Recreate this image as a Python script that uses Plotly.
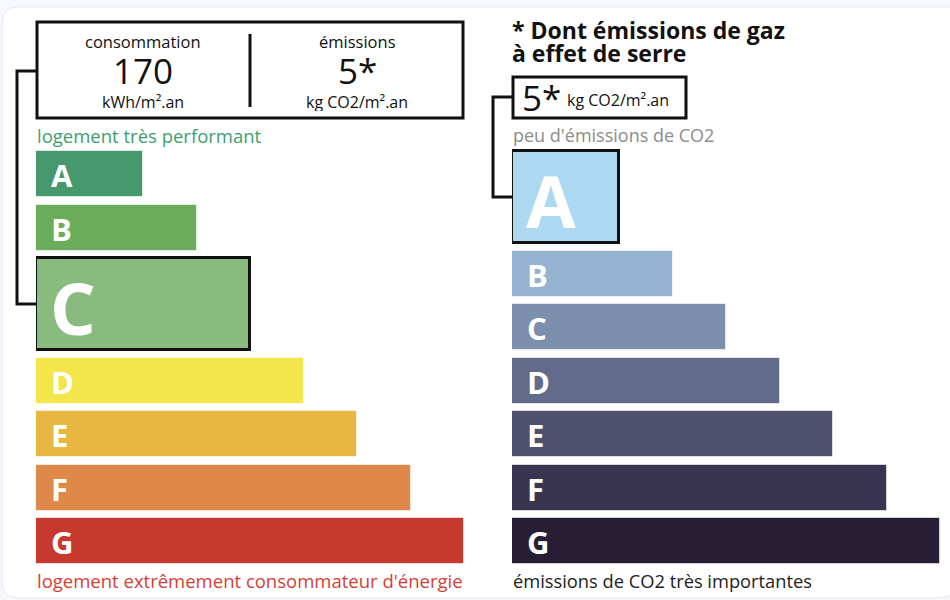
import plotly.graph_objects as go

# classes and bar lengths (in class units) for both scales
classes = ["A", "B", "C", "D", "E", "F", "G"]
energy_length = [2, 3, 4, 5, 6, 7, 8]
ghg_length = [2, 3, 4, 5, 6, 7, 8]
energy_colors = ["#46996c", "#6aae5c", "#89bb7e", "#f2e64c", "#e8b741", "#de8849", "#c6392c"]
ghg_colors = ["#acd8f2", "#95b3d0", "#7c90ad", "#626b8a", "#4d516e", "#393550", "#271d35"]

consumption = 170
emissions = 5
energy_class = "C"
ghg_class = "A"

FONT = "Open Sans"

# vertical layout (pixels from top)
TOP = 151
PITCH = 53.5
H = 46


def layout_rows(selected):
    centers, heights = [], []
    extra = 0
    for c in classes:
        h = H * 2 if c == selected else H
        top = TOP + classes.index(c) * PITCH + extra
        centers.append(top + h / 2)
        heights.append(h)
        if c == selected:
            extra = H
    return centers, heights


fig = go.Figure()

# page card, on the pixel axis (x) so it is drawn under the bars
shapes = [dict(type="path", xref="x", yref="y",
               path="M 2,23 Q 2,7 18,7 L 960,7 L 960,580 Q 960,598 934,598 L 18,598 Q 2,598 2,582 Z",
               fillcolor="white", line=dict(color="#e2e7f1", width=1), layer="below")]

# invisible trace so the pixel subplot exists
fig.add_trace(go.Scatter(x=[0], y=[0], mode="markers", marker=dict(opacity=0),
                         xaxis="x", yaxis="y", hoverinfo="skip", showlegend=False))

for length, colors, selected, xa in [(energy_length, energy_colors, energy_class, "x2"),
                                     (ghg_length, ghg_colors, ghg_class, "x3")]:
    centers, heights = layout_rows(selected)
    fig.add_trace(go.Bar(
        x=length, y=centers, width=heights, orientation="h",
        xaxis=xa, yaxis="y",
        marker=dict(color=colors,
                    line=dict(color=["#111" if c == selected else "rgba(255,255,255,0.6)" for c in classes],
                              width=[3 if c == selected else 1 for c in classes])),
        hoverinfo="skip", showlegend=False,
    ))
    for c, yc in zip(classes, centers):
        big = c == selected
        fig.add_annotation(x=0, y=yc, xref=xa, yref="y", text=f"<b>{c}</b>",
                           xanchor="left", yanchor="middle", xshift=12 if big else 13,
                           yshift=-3 if big else -1, showarrow=False,
                           font=dict(family=FONT, size=72 if big else 31, color="white"))

# info box (left) and connector
shapes += [
    dict(type="rect", xref="x", yref="y", x0=37, x1=463, y0=22, y1=118,
         line=dict(color="#111", width=3)),
    dict(type="line", xref="x", yref="y", x0=250, x1=250, y0=34, y1=107,
         line=dict(color="#111", width=3)),
    dict(type="path", xref="x", yref="y", path="M 37,71 L 17,71 L 17,304 L 37,304",
         line=dict(color="#111", width=3)),
    # right small box and connector
    dict(type="rect", xref="x", yref="y", x0=513, x1=686, y0=77, y1=118,
         line=dict(color="#111", width=3)),
    dict(type="path", xref="x", yref="y", path="M 513,97 L 493,97 L 493,197 L 513,197",
         line=dict(color="#111", width=3)),
]


def label(x, y, text, size, color="#111", anchor="center", bold=False, h=None):
    fig.add_annotation(x=x, y=y, xref="x", yref="y", text=f"<b>{text}</b>" if bold else text,
                       xanchor=anchor, yanchor="middle", showarrow=False, height=h,
                       font=dict(family=FONT, size=size, color=color))


label(143, 41, "consommation", 16.5, h=18)
label(143, 70, str(consumption), 35, h=36)
label(143, 102, "kWh/m².an", 16, h=18)
label(357, 41, "émissions", 16.5, h=18)
label(357, 70, f"{emissions}*", 35, h=36)
label(357, 102, "kg CO2/m².an", 16, h=18)

label(35, 135, "logement très performant", 18.5, "#3d9e6f", "left")
label(35, 580, "logement extrêmement consommateur d'énergie", 18.5, "#d63f36", "left")

label(510, 30, "* Dont émissions de gaz", 23, "#111", "left", bold=True)
label(510, 53, "à effet de serre", 23, "#111", "left", bold=True)
label(520, 97, f"{emissions}*", 35, "#111", "left", h=36)
label(565, 100, "kg CO2/m².an", 16, "#111", "left")
label(511, 135, "peu d'émissions de CO2", 18, "#8c8c8c", "left")
label(511, 580, "émissions de CO2 très importantes", 18.3, "#222", "left")

fig.update_layout(
    width=950, height=600, margin=dict(l=0, r=0, t=0, b=0),
    paper_bgcolor="#f6f8fd", plot_bgcolor="rgba(0,0,0,0)",
    shapes=shapes, bargap=0,
    xaxis=dict(domain=[0, 1], range=[0, 950], visible=False, fixedrange=True),
    xaxis2=dict(domain=[36 / 950, 464 / 950], range=[0, 8], visible=False, anchor="y", fixedrange=True),
    xaxis3=dict(domain=[512 / 950, 940 / 950], range=[0, 8], visible=False, anchor="y", fixedrange=True),
    yaxis=dict(domain=[0, 1], range=[600, 0], visible=False, fixedrange=True),
)

fig.write_html("out.html", config={"displayModeBar": False},
               post_script="document.body.style.margin='0';")
